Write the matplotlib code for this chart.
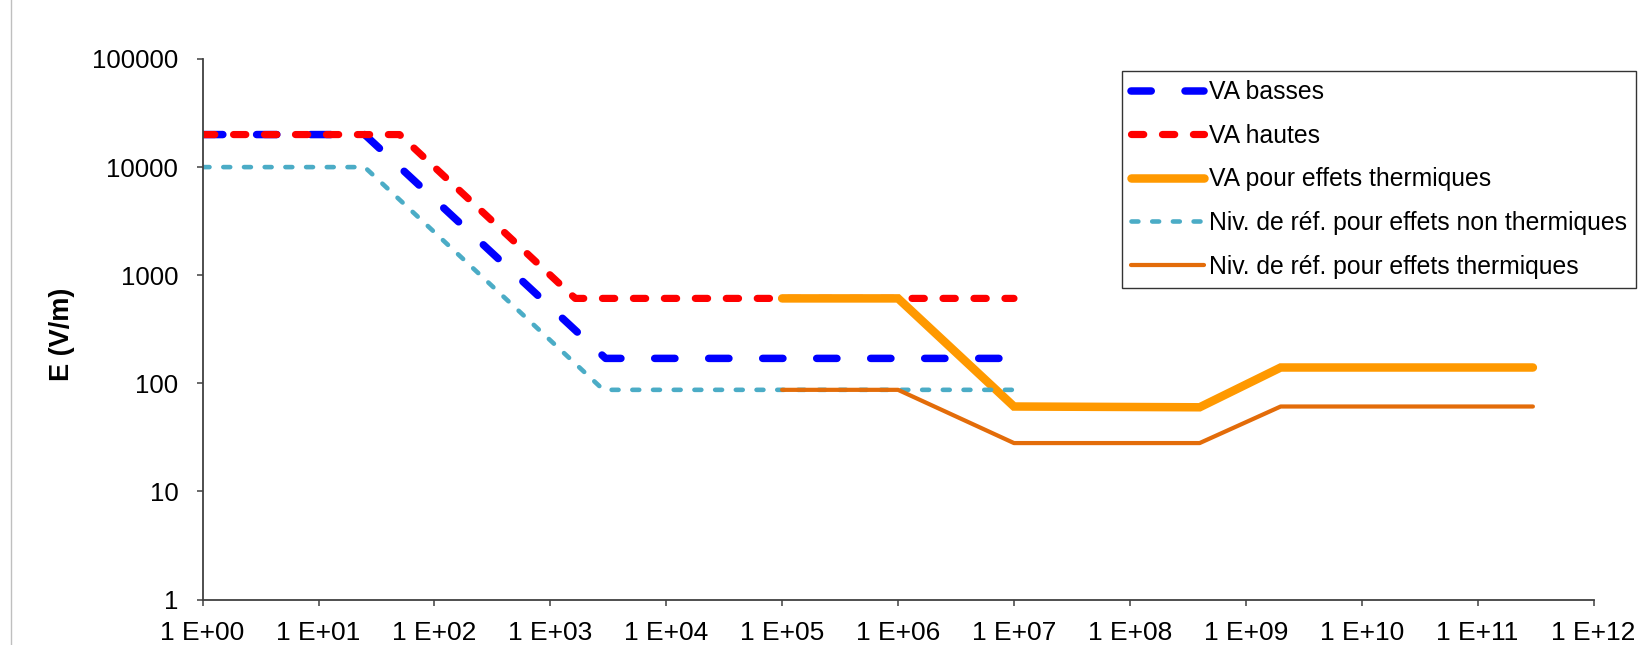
import matplotlib
matplotlib.use("Agg")
import matplotlib.pyplot as plt
from matplotlib.lines import Line2D

# ---- data ----
freq_va_basses = [1, 25, 3000, 1e7]
e_va_basses = [20000, 20000, 170, 170]

freq_va_hautes = [1, 50, 1640, 1e7]
e_va_hautes = [20000, 20000, 610, 610]

freq_va_therm = [1e5, 1e6, 1e7, 4e8, 2e9, 3e11]
e_va_therm = [610, 610, 61, 60, 140, 140]

freq_ref_nontherm = [1, 25, 2870, 1e7]
e_ref_nontherm = [10000, 10000, 87, 87]

freq_ref_therm = [1e5, 1e6, 1e7, 4e8, 2e9, 3e11]
e_ref_therm = [87, 87, 28, 28, 61, 61]

labels = ["VA basses", "VA hautes", "VA pour effets thermiques",
          "Niv. de réf. pour effets non thermiques",
          "Niv. de réf. pour effets thermiques"]

x_ticks = [10.0 ** k for k in range(0, 13)]
x_tick_labels = ["1 E+%02d" % k for k in range(0, 13)]
y_ticks = [1, 10, 100, 1000, 10000, 100000]
y_tick_labels = ["1", "10", "100", "1000", "10000", "100000"]

# ---- figure ----
plt.rcParams['font.family'] = ['Liberation Sans', 'DejaVu Sans']
W, H = 1646, 645
fig = plt.figure(figsize=(W / 100, H / 100), dpi=100)
ax = fig.add_axes([202.6 / W, 1 - 599.5 / H, (1593.5 - 202.6) / W, (599.5 - 59.0) / H])

def px2pt(p):
    return p * 0.72

ax.plot(freq_va_basses, e_va_basses, color='#0000FF', lw=px2pt(7.5),
        dashes=(2.7, 4.5), dash_capstyle='round', solid_capstyle='round',
        label=labels[0])
ax.plot(freq_va_hautes, e_va_hautes, color='#FF0000', lw=px2pt(7.2),
        dashes=(1.7, 2.6), dash_capstyle='round', solid_capstyle='round',
        label=labels[1])
ax.plot(freq_va_therm, e_va_therm, color='#FF9900', lw=px2pt(8.5),
        solid_capstyle='round', solid_joinstyle='miter', label=labels[2])
ax.plot(freq_ref_nontherm, e_ref_nontherm, color='#4BACC6', lw=px2pt(4.6),
        dashes=(1.5, 3.0), dash_capstyle='round', label=labels[3])
ax.plot(freq_ref_therm, e_ref_therm, color='#E36C09', lw=px2pt(4.2),
        solid_capstyle='round', label=labels[4])

ax.set_xscale('log')
ax.set_yscale('log')
ax.set_xlim(1, 1e12)
ax.set_ylim(1, 100000)
ax.set_xticks(x_ticks, x_tick_labels)
ax.set_yticks(y_ticks, y_tick_labels)
ax.minorticks_off()

for s in ['top', 'right']:
    ax.spines[s].set_visible(False)
for s in ['left', 'bottom']:
    ax.spines[s].set_color('#404040')
    ax.spines[s].set_linewidth(1.3)

ax.tick_params(axis='both', which='major', direction='out', length=4,
               width=1.1, color='#404040', labelcolor='black')
ax.tick_params(axis='y', pad=13.5, labelsize=18.5)
ax.tick_params(axis='x', pad=11.5, labelsize=19)

fig.text(62 / W, 1 - 334 / H, 'E (V/m)', rotation=90, ha='center', va='center',
         fontsize=19.5, fontweight='bold')

leg = ax.legend(loc='upper left', bbox_to_anchor=(1122 / W, 1 - 71 / H),
                bbox_transform=fig.transFigure, fontsize=17.8, frameon=True,
                fancybox=False, edgecolor='black', handlelength=2.92,
                handletextpad=0.2, labelspacing=0.79, borderpad=0.38,
                borderaxespad=0)
leg.get_frame().set_linewidth(1.0)

fig.add_artist(Line2D([11 / W, 11 / W], [0, 1], transform=fig.transFigure,
                      color='#BFBFBF', lw=1.0))

fig.savefig('out.png', dpi=100)
